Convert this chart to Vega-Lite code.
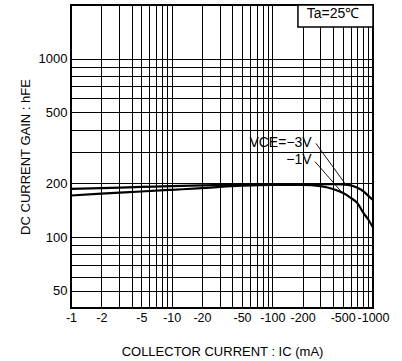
{
  "$schema": "https://vega.github.io/schema/vega-lite/v6.json",
  "autosize": "none",
  "padding": {"left": 71, "top": 5, "right": 29, "bottom": 53},
  "width": 302,
  "height": 303,
  "background": "white",
  "config": {
    "view": {"stroke": "black", "strokeWidth": 2},
    "font": "Liberation Sans",
    "axis": {
      "grid": true, "gridColor": "black", "gridOpacity": 1, "gridWidth": 1,
      "ticks": false, "domain": false,
      "labelFont": "Liberation Sans", "labelFontSize": 13, "labelColor": "black",
      "titleFont": "Liberation Sans", "titleFontSize": 13, "titleFontWeight": "normal", "titleColor": "black",
      "labelOverlap": false, "labelFlush": false
    }
  },
  "datasets": {
    "curves": [
      {"ic": -1, "hfe": 186, "vce": "-3V"},
      {"ic": -2, "hfe": 188, "vce": "-3V"},
      {"ic": -5, "hfe": 191, "vce": "-3V"},
      {"ic": -10, "hfe": 193, "vce": "-3V"},
      {"ic": -20, "hfe": 195, "vce": "-3V"},
      {"ic": -50, "hfe": 197, "vce": "-3V"},
      {"ic": -100, "hfe": 198, "vce": "-3V"},
      {"ic": -200, "hfe": 198, "vce": "-3V"},
      {"ic": -300, "hfe": 198, "vce": "-3V"},
      {"ic": -400, "hfe": 198, "vce": "-3V"},
      {"ic": -500, "hfe": 197, "vce": "-3V"},
      {"ic": -600, "hfe": 195, "vce": "-3V"},
      {"ic": -700, "hfe": 189, "vce": "-3V"},
      {"ic": -800, "hfe": 181, "vce": "-3V"},
      {"ic": -900, "hfe": 170, "vce": "-3V"},
      {"ic": -1000, "hfe": 161, "vce": "-3V"},
      {"ic": -1, "hfe": 171, "vce": "-1V"},
      {"ic": -2, "hfe": 175, "vce": "-1V"},
      {"ic": -5, "hfe": 180, "vce": "-1V"},
      {"ic": -10, "hfe": 184, "vce": "-1V"},
      {"ic": -20, "hfe": 188, "vce": "-1V"},
      {"ic": -30, "hfe": 191, "vce": "-1V"},
      {"ic": -50, "hfe": 194, "vce": "-1V"},
      {"ic": -100, "hfe": 196, "vce": "-1V"},
      {"ic": -200, "hfe": 196, "vce": "-1V"},
      {"ic": -300, "hfe": 193, "vce": "-1V"},
      {"ic": -400, "hfe": 186, "vce": "-1V"},
      {"ic": -500, "hfe": 177, "vce": "-1V"},
      {"ic": -600, "hfe": 166, "vce": "-1V"},
      {"ic": -700, "hfe": 155, "vce": "-1V"},
      {"ic": -800, "hfe": 137, "vce": "-1V"},
      {"ic": -900, "hfe": 125, "vce": "-1V"},
      {"ic": -1000, "hfe": 113, "vce": "-1V"}
    ],
    "leaders": [
      {"ic": -271, "hfe": 335, "ic2": -526, "hfe2": 200},
      {"ic": -265, "hfe": 265, "ic2": -491, "hfe2": 178}
    ],
    "labels": [
      {"ic": -246, "hfe": 335, "text": "VCE=−3V"},
      {"ic": -246, "hfe": 269, "text": "−1V"}
    ],
    "box": [
      {"ic": -179.6, "ic2": -1000, "hfe": 1506, "hfe2": 2000, "text": "Ta=25℃", "tic": -400, "thfe": 1790}
    ]
  },
  "encoding": {
    "x": {
      "field": "ic", "type": "quantitative",
      "scale": {"type": "log", "domain": [-1, -1000], "nice": false},
      "axis": {
        "title": "COLLECTOR CURRENT : IC (mA)",
        "values": [-1, -2, -3, -4, -5, -6, -7, -8, -9, -10, -20, -30, -40, -50, -60, -70, -80, -90, -100, -200, -300, -400, -500, -600, -700, -800, -900, -1000],
        "labelExpr": "indexof([-1,-2,-5,-10,-20,-50,-100,-200,-500,-1000], datum.value) >= 0 ? '' + datum.value : ''",
        "labelFontSize": 12.5,
        "labelPadding": 3,
        "titlePadding": 22
      }
    },
    "y": {
      "field": "hfe", "type": "quantitative",
      "scale": {"type": "log", "domain": [40, 2000], "nice": false},
      "axis": {
        "title": "DC CURRENT GAIN : hFE",
        "values": [50, 60, 70, 80, 90, 100, 200, 300, 400, 500, 600, 700, 800, 900, 1000],
        "labelExpr": "indexof([50,100,200,500,1000], datum.value) >= 0 ? '' + datum.value : ''",
        "labelPadding": 4,
        "titlePadding": 6
      }
    }
  },
  "layer": [
    {
      "data": {"name": "curves"},
      "mark": {"type": "line", "color": "black", "strokeWidth": 2.2, "interpolate": "monotone"},
      "encoding": {"detail": {"field": "vce", "type": "nominal"}}
    },
    {
      "data": {"name": "leaders"},
      "mark": {"type": "rule", "color": "black", "strokeWidth": 0.9},
      "encoding": {
        "x2": {"field": "ic2"},
        "y2": {"field": "hfe2"}
      }
    },
    {
      "data": {"name": "labels"},
      "mark": {"type": "text", "align": "right", "baseline": "middle", "fontSize": 14, "font": "Liberation Sans", "color": "black"},
      "encoding": {"text": {"field": "text"}}
    },
    {
      "data": {"name": "box"},
      "mark": {"type": "rect", "fill": "white", "stroke": "black", "strokeWidth": 1.5},
      "encoding": {
        "x2": {"field": "ic2"},
        "y2": {"field": "hfe2"}
      }
    },
    {
      "data": {"name": "box"},
      "mark": {"type": "text", "align": "center", "baseline": "middle", "fontSize": 14, "font": "Liberation Sans", "color": "black"},
      "encoding": {
        "x": {"field": "tic", "type": "quantitative"},
        "y": {"field": "thfe", "type": "quantitative"},
        "text": {"field": "text"}
      }
    }
  ]
}
